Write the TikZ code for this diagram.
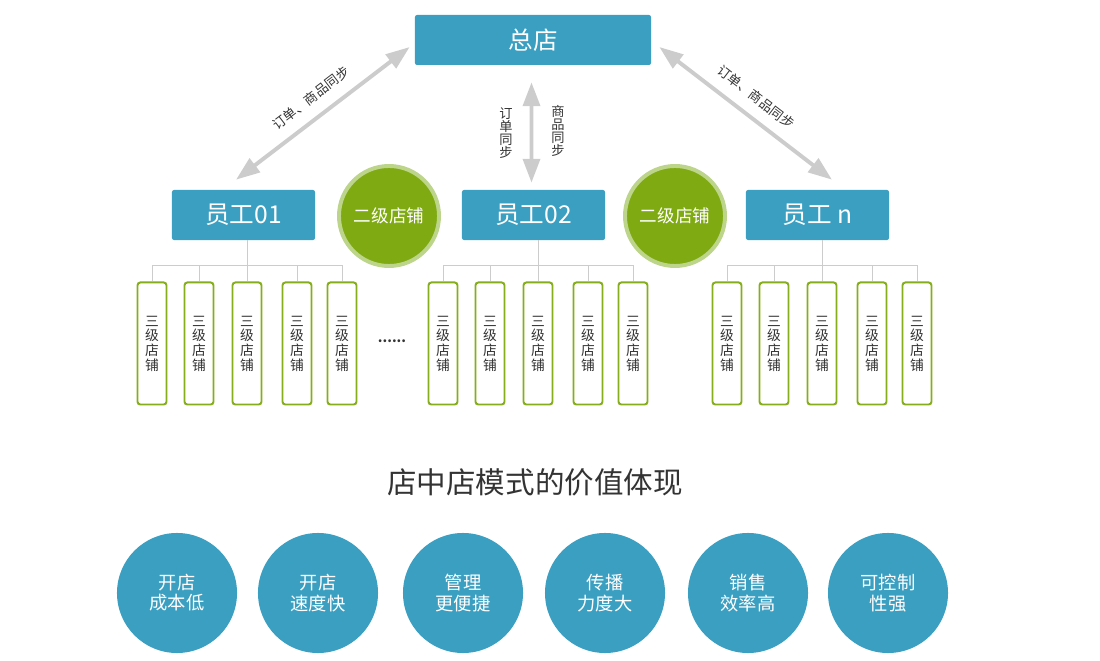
\documentclass[tikz,border=0pt]{standalone}
\usepackage{fontspec}
\setmainfont{Noto Sans CJK SC}
\usetikzlibrary{arrows.meta,calc}

\definecolor{shopblue}{HTML}{3A9FC1}
\definecolor{shopgreen}{HTML}{7FAA12}
\definecolor{ringgreen}{HTML}{BCD58B}
\definecolor{leafgreen}{HTML}{86AE1C}
\definecolor{arrowgray}{HTML}{CCCCCC}
\definecolor{textgray}{HTML}{333333}

\tikzset{
  bluebox/.style={fill=shopblue, text=white, rounded corners=1.5pt, inner sep=0pt,
    minimum height=1.25cm, font=\fontsize{17.5}{20}\selectfont},
  subshop/.style={circle, fill=shopgreen, draw=ringgreen, line width=2.8pt, inner sep=0pt,
    minimum size=2.5cm, text=white, font=\fontsize{12.5}{14}\selectfont},
  leaf/.style={draw=leafgreen, line width=1.4pt, fill=white, rounded corners=2pt, inner sep=0pt,
    minimum width=0.725cm, minimum height=3.05cm, align=center, text=textgray,
    font=\fontsize{9.8}{10.4}\selectfont},
  value/.style={circle, fill=shopblue, inner sep=0pt, minimum size=3cm, align=center,
    text=white, font=\fontsize{13}{14.4}\selectfont},
  sync/.style={arrowgray, line width=2.8pt,
    arrows={Triangle[length=17pt,width=12pt]-Triangle[length=17pt,width=12pt]}},
  synclabel/.style={text=textgray, font=\fontsize{9.4}{9.4}\selectfont, align=center, inner sep=0pt},
  tree/.style={arrowgray, line width=0.7pt}
}

\begin{document}
\begin{tikzpicture}[x=0.025cm, y=-0.025cm]
  \useasboundingbox (0,0) rectangle (1100,661);

  % head office and staff
  \node[bluebox, minimum width=5.9cm] (hq) at (533,40) {总店};
  \node[bluebox, minimum width=3.575cm] (e1) at (243.5,215) {员工01};
  \node[bluebox, minimum width=3.575cm] (e2) at (533.5,215) {员工02};
  \node[bluebox, minimum width=3.575cm] (e3) at (817.5,215) {员工 n};
  \node[subshop] (s1) at (389,216) {二级店铺};
  \node[subshop] (s2) at (675,216) {二级店铺};

  % sync arrows
  \draw[sync] ($(e1.north)+(-7.5,-10)$) -- ($(hq.west)+(-5,7)$);
  \draw[sync] ($(hq.south)+(-1.5,17)$) -- ($(e2.north)+(-2,-7)$);
  \draw[sync] ($(hq.east)+(8,7)$) -- ($(e3.north)+(14.5,-10)$);
  \node[synclabel, rotate=37.4] (t1) at (311,98) {订单、商品同步};
  \node[synclabel, rotate=-37.4] (t3) at (756,97) {订单、商品同步};
  \node[synclabel] (t2a) at (506,133) {订\\单\\同\\步};
  \node[synclabel] (t2b) at (558,131) {商\\品\\同\\步};

  % third level shops
  \foreach \g/\c in {1/247, 2/538, 3/822} {
    \foreach \k/\d in {1/-95, 2/-48, 3/0, 4/50, 5/95}
      \node[leaf] (l\g\k) at (\c+\d,343.5) {三\\级\\店\\铺};
    \draw[tree] (l\g3.north |- e\g.south) -- (l\g3.north);
    \draw[tree] (l\g1.north) -- ++(0,-16) -| (l\g5.north);
    \draw[tree] (l\g2.north) -- ++(0,-16);
    \draw[tree] (l\g4.north) -- ++(0,-16);
  }
  \node[text=textgray, font=\fontsize{9.5}{10}\bfseries] (dots) at (392,341) {......};

  % values
  \node[text=textgray, font=\fontsize{21}{24}\selectfont] (title) at (535,482) {店中店模式的价值体现};
  \foreach \i/\x/\t in {1/177/{开店\\成本低}, 2/318/{开店\\速度快}, 3/463/{管理\\更便捷},
                        4/605/{传播\\力度大}, 5/748/{销售\\效率高}, 6/888/{可控制\\性强}}
    \node[value] (v\i) at (\x,593) {\t};
\end{tikzpicture}
\end{document}
